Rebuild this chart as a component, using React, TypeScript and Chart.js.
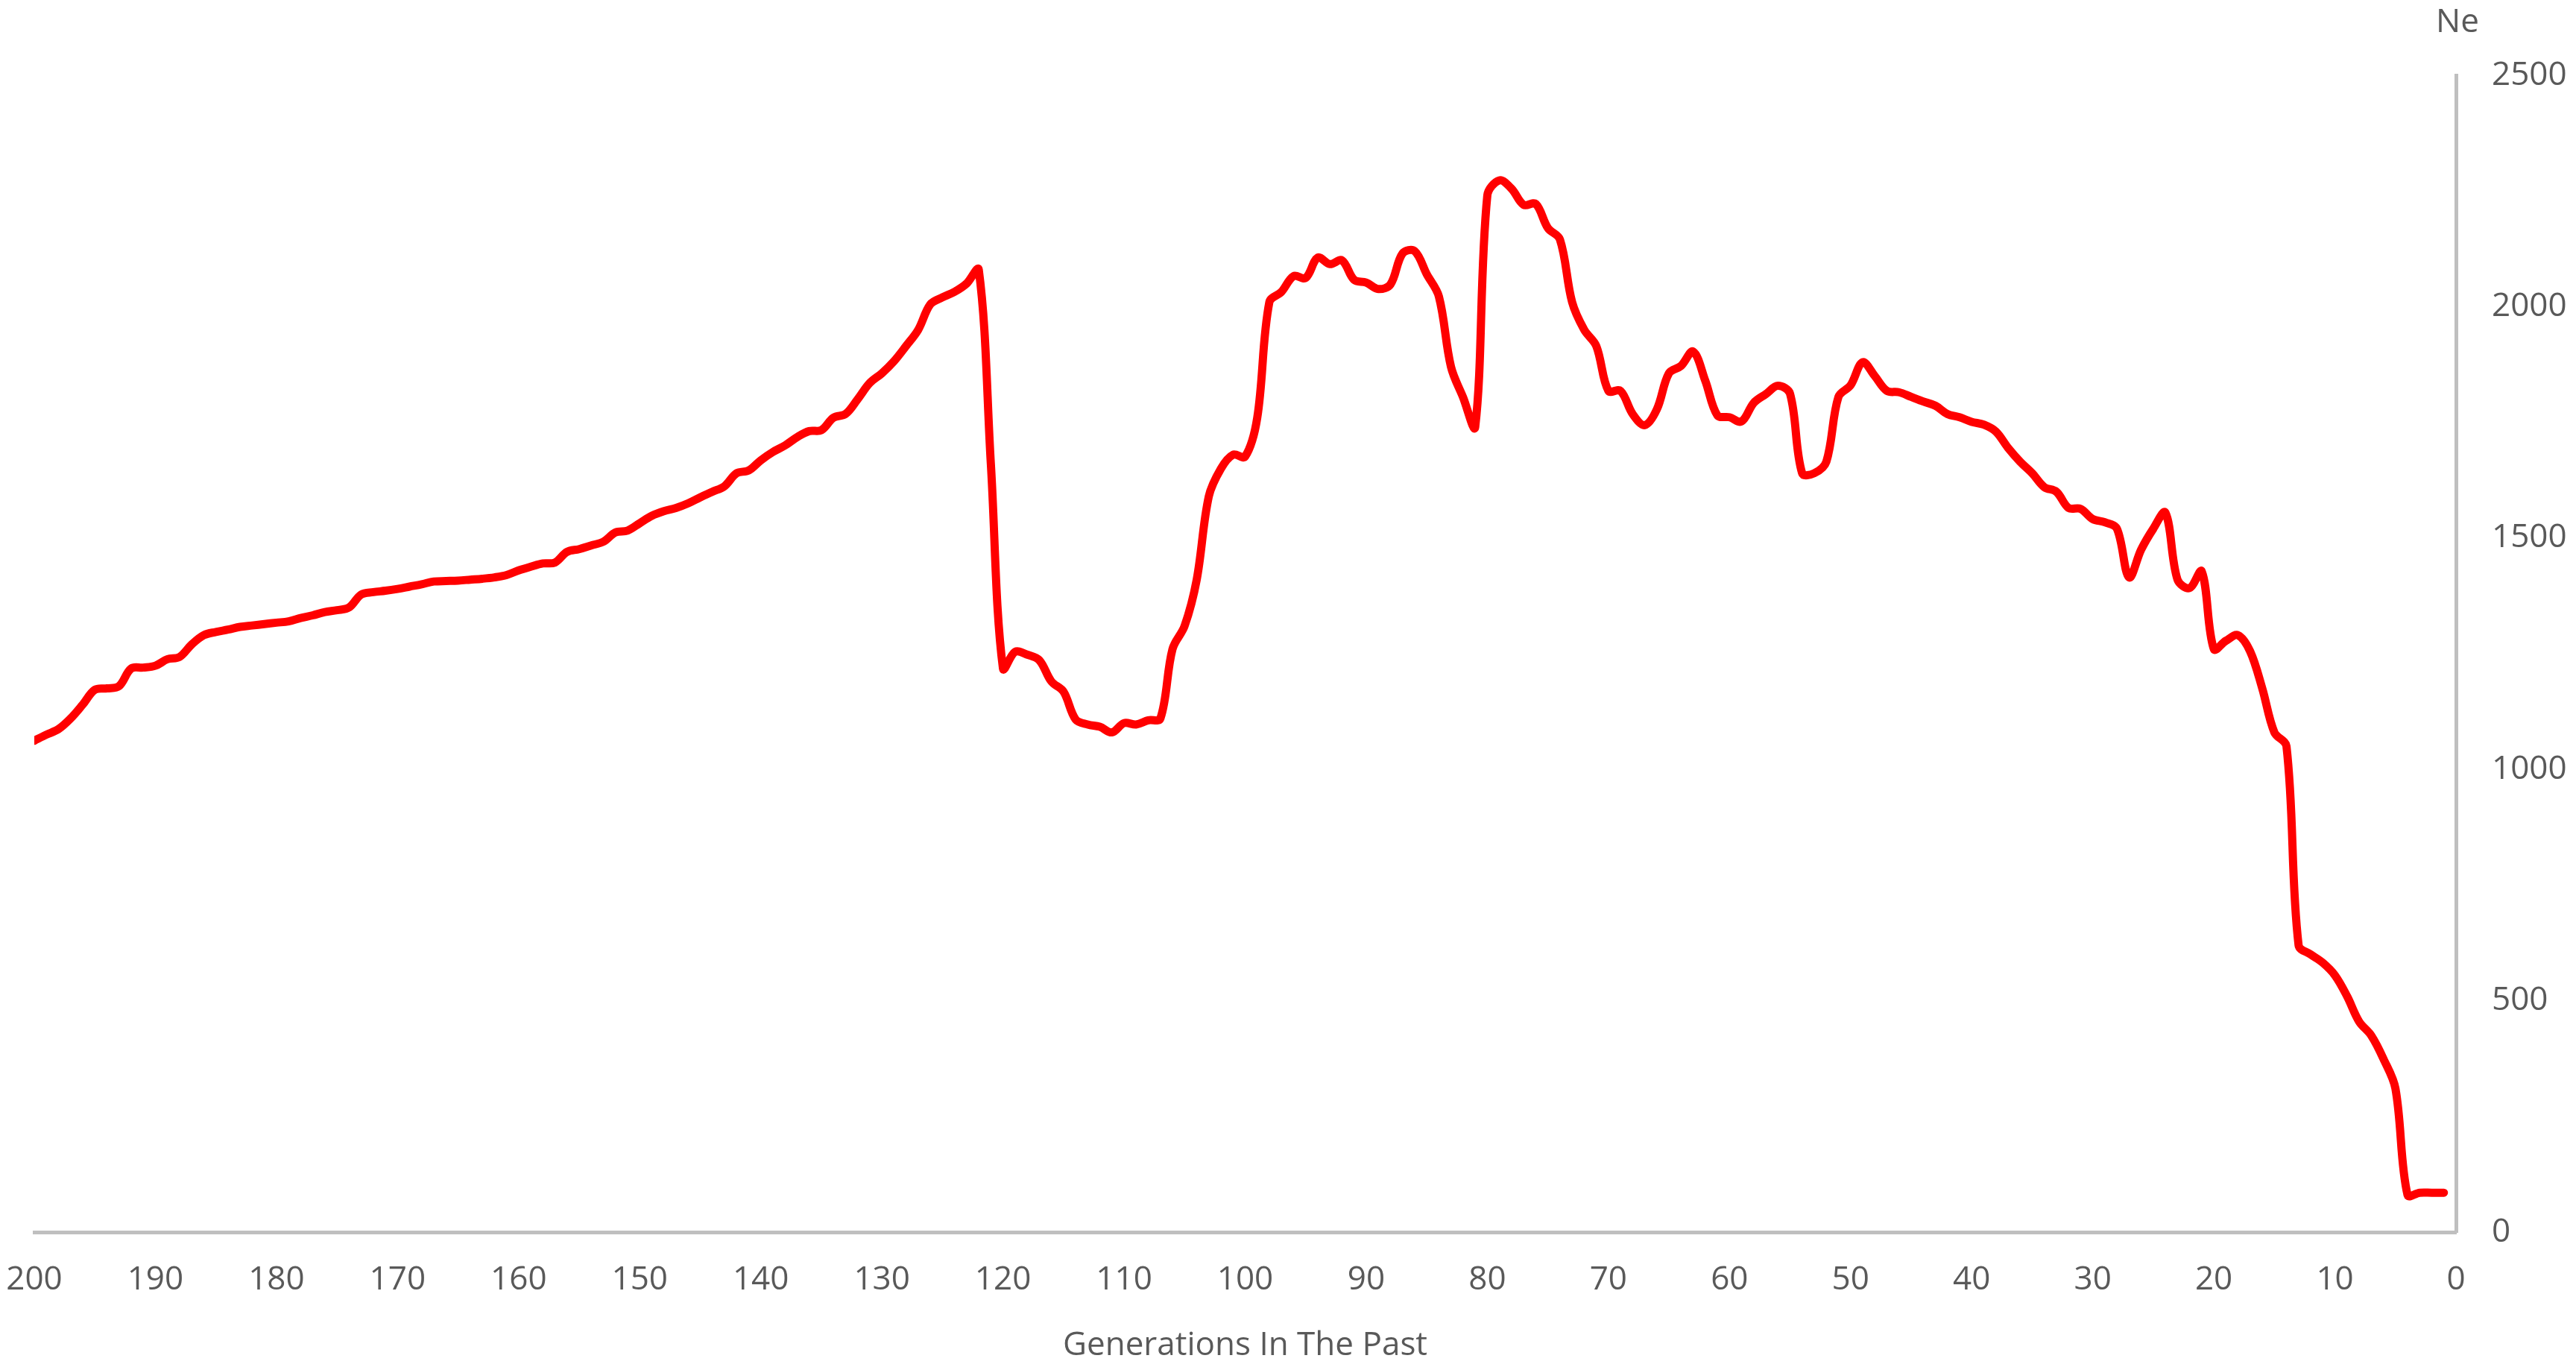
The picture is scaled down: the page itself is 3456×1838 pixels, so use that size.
import React, { useEffect, useRef } from "react";
import { Chart, registerables } from "chart.js";

Chart.register(...registerables);

// Effective population size (Ne) per generation; index 0 = generation 200, last = generation 1
const FIRST_GENERATION = 200;
const neValues: number[] = [
  // 200-191
  1062, 1075, 1087, 1110, 1140, 1172, 1175, 1180, 1218, 1220,
  // 190-181
  1224, 1238, 1243, 1270, 1290, 1297, 1302, 1308, 1311, 1314,
  // 180-171
  1317, 1320, 1327, 1333, 1340, 1344, 1350, 1378, 1383, 1386,
  // 170-161
  1390, 1395, 1400, 1406, 1407, 1408, 1410, 1412, 1415, 1420,
  // 160-151
  1430, 1438, 1445, 1447, 1470, 1476, 1484, 1492, 1512, 1516,
  // 150-141
  1532, 1548, 1558, 1565, 1575, 1588, 1600, 1612, 1640, 1646,
  // 140-131
  1668, 1686, 1700, 1718, 1731, 1733, 1760, 1768, 1800, 1835,
  // 130-121
  1856, 1882, 1915, 1950, 2005, 2020, 2032, 2050, 2080, 1660,
  // 120-111
  1218, 1254, 1248, 1236, 1190, 1168, 1108, 1097, 1092, 1080,
  // 110-101
  1100, 1097, 1106, 1110, 1260, 1310, 1410, 1590, 1650, 1680,
  // 100-91
  1676, 1760, 2010, 2032, 2066, 2062, 2106, 2092, 2100, 2058,
  // 90-81
  2052, 2038, 2048, 2115, 2120, 2070, 2022, 1870, 1804, 1740,
  // 80-71
  2240, 2273, 2255, 2220, 2222, 2170, 2145, 2010, 1950, 1915,
  // 70-61
  1818, 1818, 1768, 1744, 1778, 1856, 1872, 1903, 1840, 1765,
  // 60-51
  1761, 1752, 1792, 1811, 1829, 1812, 1640, 1640, 1665, 1805,
  // 50-41
  1830, 1880, 1850, 1818, 1815, 1805, 1795, 1786, 1768, 1761,
  // 40-31
  1751, 1745, 1730, 1695, 1665, 1640, 1610, 1600, 1565, 1563,
  // 30-21
  1541, 1534, 1520, 1415, 1475, 1520, 1555, 1410, 1392, 1428,
  // 20-11
  1260, 1278, 1290, 1255, 1175, 1080, 1050, 620, 600, 582,
  // 10-1
  555, 510, 455, 425, 375, 310, 80, 85, 85, 85,
];
const generations: number[] = neValues.map((_, i) => FIRST_GENERATION - i);

const X_TITLE = "Generations In The Past";
const Y_TITLE = "Ne";
const X_MIN = 0;
const X_MAX = 200;
const X_STEP = 10;
const Y_MIN = 0;
const Y_MAX = 2500;
const Y_STEP = 500;

const TEXT_COLOR = "#595959";
const AXIS_COLOR = "#BFBFBF";
const LINE_COLOR = "#FF0000";
const FONT_FAMILY = '"Open Sans", "DejaVu Sans", sans-serif';

const neTitlePlugin = {
  id: "neTitle",
  afterDraw(chart: any) {
    const s = chart.scales.y;
    const ctx = chart.ctx;
    ctx.save();
    ctx.font = `44px ${FONT_FAMILY}`;
    ctx.fillStyle = TEXT_COLOR;
    ctx.textAlign = "center";
    ctx.textBaseline = "middle";
    ctx.fillText(Y_TITLE, s.left + 2, 30);
    ctx.restore();
  },
};

export default function App() {
  const canvasRef = useRef<HTMLCanvasElement | null>(null);

  useEffect(() => {
    if (!canvasRef.current) return;
    const points = generations.map((g, i) => ({ x: g, y: neValues[i] }));
    const chart = new Chart(canvasRef.current, {
      type: "line",
      data: {
        datasets: [
          {
            data: points,
            borderColor: LINE_COLOR,
            borderWidth: 11,
            pointRadius: 0,
            tension: 0.35,
            fill: false,
            borderCapStyle: "round",
            borderJoinStyle: "round",
          },
        ],
      },
      options: {
        responsive: false,
        animation: false,
        layout: { padding: { left: 46, top: 101, right: 0, bottom: 0 } },
        plugins: {
          legend: { display: false },
          tooltip: { enabled: false },
          title: { display: false },
        },
        scales: {
          x: {
            type: "linear",
            min: X_MIN,
            max: X_MAX,
            reverse: true,
            grid: { display: false, drawTicks: false },
            border: { display: true, color: AXIS_COLOR, width: 5 },
            ticks: {
              stepSize: X_STEP,
              padding: 38,
              color: TEXT_COLOR,
              font: { family: FONT_FAMILY, size: 44 },
              maxRotation: 0,
              autoSkip: false,
              callback: (v: any) => String(v),
            },
            title: {
              display: true,
              text: X_TITLE,
              color: TEXT_COLOR,
              font: { family: FONT_FAMILY, size: 44 },
              padding: { top: 0, bottom: 6 },
            },
            afterFit(scale: any) {
              scale.height = 185;
              scale.paddingLeft = 0;
              scale.paddingRight = 0;
            },
          },
          y: {
            type: "linear",
            position: "right",
            min: Y_MIN,
            max: Y_MAX,
            grid: { display: false, drawTicks: false },
            border: { display: true, color: AXIS_COLOR, width: 5 },
            ticks: {
              stepSize: Y_STEP,
              padding: 48,
              color: TEXT_COLOR,
              font: { family: FONT_FAMILY, size: 44 },
              callback: (v: any) => String(v),
            },
            afterFit(scale: any) {
              scale.width = 161;
              scale.paddingTop = 0;
              scale.paddingBottom = 0;
            },
          },
        },
      },
      plugins: [neTitlePlugin],
    });
    return () => chart.destroy();
  }, []);

  return (
    <div
      style={{
        position: "fixed",
        left: 0,
        top: 0,
        width: 3456,
        height: 1838,
        background: "#ffffff",
      }}
    >
      <canvas
        ref={canvasRef}
        width={3456}
        height={1838}
        style={{ display: "block", width: 3456, height: 1838 }}
      />
    </div>
  );
}
